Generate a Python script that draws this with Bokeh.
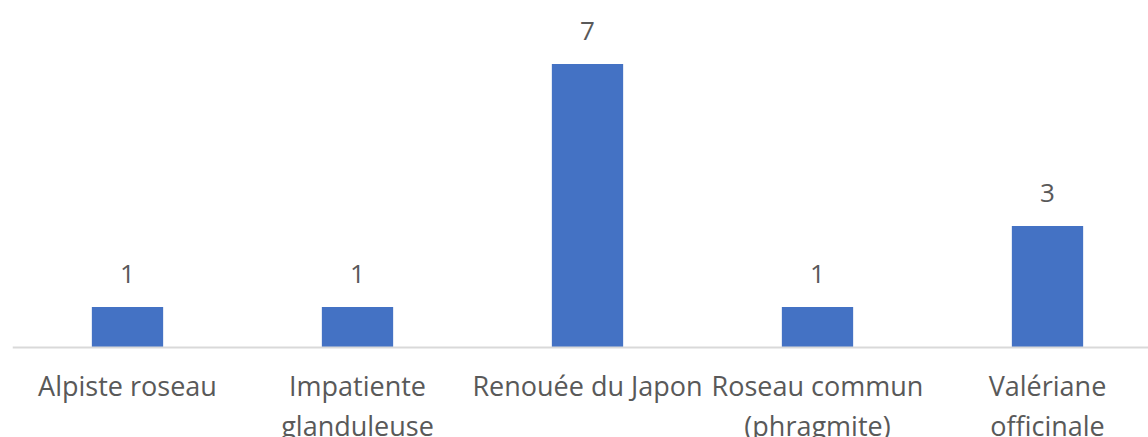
from bokeh.plotting import figure
from bokeh.models import ColumnDataSource, LabelSet, Range1d, Span
from bokeh.core.properties import value
from bokeh.embed import file_html
from bokeh.resources import INLINE

categories = ["Alpiste roseau", "Impatiente\nglanduleuse", "Renouée du Japon",
              "Roseau commun\n(phragmite)", "Valériane\nofficinale"]
values = [1, 1, 7, 1, 3]

xs = list(range(len(categories)))
line1 = [c.split("\n")[0] for c in categories]
line2 = [c.split("\n")[1] if "\n" in c else "" for c in categories]
src = ColumnDataSource(dict(x=xs, top=values, lbl=[str(v) for v in values],
                            l1=line1, l2=line2, zero=[0] * len(xs)))

PX = 40.5  # pixels per unit
p = figure(width=1148, height=437, output_backend="svg", toolbar_location=None,
           x_range=Range1d(-0.5, -0.5 + 1136 / 230),
           y_range=Range1d(-(437 - 347) / PX, 347 / PX),
           min_border_left=12, min_border_right=0, min_border_top=0, min_border_bottom=0)

p.vbar(x="x", top="top", width=0.31, bottom=0, source=src,
       fill_color="#4472C4", line_color=None)

p.add_layout(Span(location=0, dimension="width", line_color="#D9D9D9", line_width=2))

common = dict(source=src, text_align="center", text_font=value("Open Sans"),
              text_color="#595959")

p.add_layout(LabelSet(x="x", y="top", text="lbl", y_offset=33, text_baseline="middle",
                      text_font_size="26px", **common))

p.add_layout(LabelSet(x="x", y="zero", text="l1", y_offset=-38, text_baseline="middle",
                      text_font_size="27px", **common))
p.add_layout(LabelSet(x="x", y="zero", text="l2", y_offset=-78, text_baseline="middle",
                      text_font_size="27px", **common))

p.xaxis.visible = False
p.yaxis.visible = False
p.xgrid.visible = False
p.ygrid.visible = False
p.outline_line_color = None

open("out.html", "w").write(file_html(p, INLINE))
